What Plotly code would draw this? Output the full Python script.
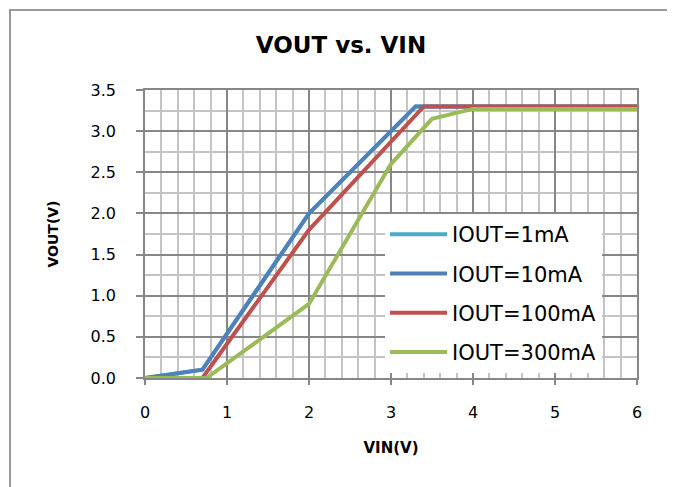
import plotly.graph_objects as go

# ---- data ----
vin_1ma = [0.0, 0.7, 2.0, 3.3, 6.0]
vout_1ma = [0.0, 0.1, 2.0, 3.3, 3.3]

vin_10ma = [0.0, 0.7, 2.0, 3.3, 6.0]
vout_10ma = [0.0, 0.1, 2.0, 3.3, 3.3]

vin_100ma = [0.0, 0.7, 2.0, 3.4, 6.0]
vout_100ma = [0.0, 0.0, 1.8, 3.3, 3.3]

vin_300ma = [0.0, 0.75, 2.0, 3.0, 3.5, 4.0, 6.0]
vout_300ma = [0.0, 0.0, 0.9, 2.6, 3.15, 3.27, 3.27]

series_names = ["IOUT=1mA", "IOUT=10mA", "IOUT=100mA", "IOUT=300mA"]
series_colors = ["#4BACC6", "#4F81BD", "#C0504D", "#9BBB59"]
series_x = [vin_1ma, vin_10ma, vin_100ma, vin_300ma]
series_y = [vout_1ma, vout_10ma, vout_100ma, vout_300ma]

x_ticks = [0, 1, 2, 3, 4, 5, 6]
y_ticks = [0.0, 0.5, 1.0, 1.5, 2.0, 2.5, 3.0, 3.5]

FONT = "DejaVu Sans"
MAJOR = "#878787"
MINOR = "#c4c4c4"

fig = go.Figure()
for name, color, xs, ys in zip(series_names, series_colors, series_x, series_y):
    fig.add_trace(go.Scatter(
        x=xs, y=ys, mode="lines", name=name, legendgroup=name,
        line=dict(color=color, width=4),
    ))

OFF = 8  # page body margin
W, H = 675, 487
# plot area in screenshot pixels: x 145..637, y 90..378
L = 145 - OFF
T = 90 - OFF
R = W - (637 - OFF)
B = H - (378 - OFF)
pw, ph = W - L - R, H - T - B

def px_x(p):
    return (p - OFF - L) / pw

def px_y(p):
    return (H - B - (p - OFF)) / ph

fig.update_layout(
    width=W, height=H,
    margin=dict(l=L, r=R, t=T, b=B),
    paper_bgcolor="white", plot_bgcolor="white",
    font=dict(family=FONT, size=16, color="#000000"),
    title=dict(text="<b>VOUT vs. VIN</b>", font=dict(family=FONT, size=23, color="#000000"),
               x=(341 - OFF) / W, xref="container", xanchor="center",
               y=1 - (45 - OFF) / H, yref="container", yanchor="middle"),
    showlegend=True,
    legend=dict(x=px_x(385), y=px_y(214), xanchor="left", yanchor="top",
                bgcolor="white", borderwidth=0, itemwidth=57,
                font=dict(family=FONT, size=21, color="#000000"),
                traceorder="grouped", tracegroupgap=9),
    xaxis=dict(
        range=[0, 6], tickvals=x_ticks, ticktext=[str(v) for v in x_ticks],
        showgrid=True, gridcolor=MAJOR, gridwidth=1.5,
        minor=dict(dtick=0.2, showgrid=True, gridcolor=MINOR, gridwidth=1.5),
        showline=True, linecolor=MAJOR, linewidth=1.5, mirror=True,
        ticks="outside", ticklen=5, tickcolor=MAJOR, tickwidth=1.5,
        ticklabelstandoff=14, zeroline=False,
        title=dict(text="<b>VIN(V)</b>", font=dict(family=FONT, size=15), standoff=22),
    ),
    yaxis=dict(
        range=[0, 3.5], tickvals=y_ticks, ticktext=[f"{v:.1f}" for v in y_ticks],
        showgrid=True, gridcolor=MAJOR, gridwidth=1.5,
        minor=dict(dtick=0.25, showgrid=True, gridcolor=MINOR, gridwidth=1.5),
        showline=True, linecolor=MAJOR, linewidth=1.5, mirror=True,
        ticks="outside", ticklen=7, tickcolor=MAJOR, tickwidth=1.5,
        ticklabelstandoff=17, zeroline=False,
        title=dict(text="<b>VOUT(V)</b>", font=dict(family=FONT, size=14), standoff=29),
    ),
    shapes=[dict(type="rect", xref="paper", yref="paper",
                 x0=px_x(10), x1=px_x(671), y0=px_y(510), y1=px_y(10),
                 line=dict(color="#9a9a9a", width=2), fillcolor="rgba(0,0,0,0)",
                 layer="below")],
)

fig.write_html("out.html")
